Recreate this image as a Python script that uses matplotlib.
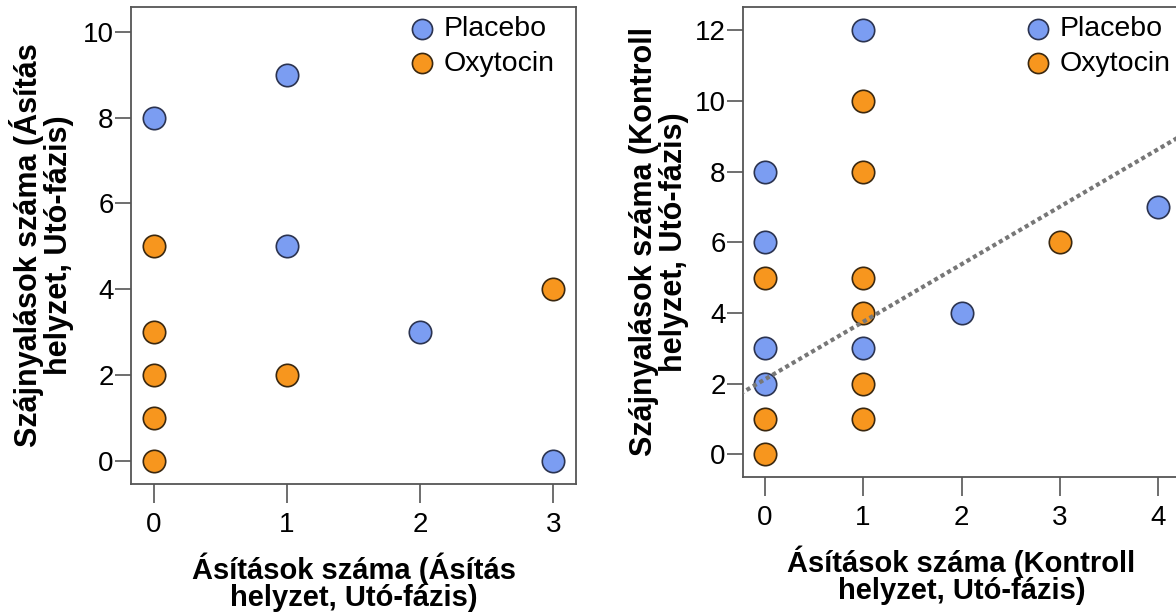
import matplotlib
matplotlib.use('Agg')
import matplotlib.pyplot as plt
import numpy as np

plt.rcParams['font.family'] = ['Liberation Sans', 'DejaVu Sans']

# Left panel: Ásítás helyzet
left_placebo_x = [0, 1, 1, 2, 3]
left_placebo_y = [8, 9, 5, 3, 0]
left_oxy_x = [0, 0, 0, 0, 0, 1, 3]
left_oxy_y = [5, 3, 2, 1, 0, 2, 4]

# Right panel: Kontroll helyzet
right_placebo_x = [1, 0, 0, 0, 0, 1, 2, 4]
right_placebo_y = [12, 8, 6, 3, 2, 3, 4, 7]
right_oxy_x = [1, 1, 0, 1, 1, 0, 1, 1, 0, 3]
right_oxy_y = [10, 8, 5, 5, 4, 1, 2, 1, 0, 6]

# fit line (intercept, slope)
fit_intercept = 2.12
fit_slope = 1.63

labels = ['Placebo', 'Oxytocin']
blue = '#7B9DF2'
orange = '#F7961E'
edge_blue = '#2b3350'
edge_orange = '#3a2810'
frame = '#555555'
msize = 260

W, H = 1176, 612


def style_axes(ax):
    for sp in ax.spines.values():
        sp.set_color(frame)
        sp.set_linewidth(1.3)
    ax.tick_params(direction='out', width=1.2, color=frame,
                   labelsize=20, labelcolor='black')
    ax.tick_params(axis='x', length=14, pad=6)
    ax.tick_params(axis='y', length=11.5, pad=1)


def add_legend(ax, x_px, y_px):
    ax.legend(loc='upper left', bbox_to_anchor=(x_px / W, 1 - y_px / H),
              bbox_transform=fig.transFigure, frameon=False, fontsize=20.5,
              handlelength=1.0, handletextpad=0.25, labelspacing=0.3,
              borderaxespad=0, borderpad=0, markerscale=0.9)


fig = plt.figure(figsize=(11.76, 6.12), dpi=100)

# left panel
ax1 = fig.add_axes([131 / W, 1 - 484 / H, (576 - 131) / W, (484 - 7) / H])
ax1.scatter(left_placebo_x, left_placebo_y, s=msize, c=blue, edgecolors=edge_blue,
            linewidths=1.2, label=labels[0], zorder=3)
ax1.scatter(left_oxy_x, left_oxy_y, s=msize, c=orange, edgecolors=edge_orange,
            linewidths=1.2, label=labels[1], zorder=3)
ax1.set_xlim(-0.17, 3.17)
ax1.set_ylim(-0.54, 10.58)
ax1.set_xticks([0, 1, 2, 3])
ax1.set_yticks([0, 2, 4, 6, 8, 10])
style_axes(ax1)
ax1.set_xlabel('Ásítások száma (Ásítás\nhelyzet, Utó-fázis)', fontsize=21,
               fontweight='bold', linespacing=0.97)
ax1.xaxis.set_label_coords(0.5, -0.1426)
ax1.set_ylabel('Szájnyalások száma (Ásítás\nhelyzet, Utó-fázis)', fontsize=22,
               fontweight='bold', linespacing=1.0)
ax1.yaxis.set_label_coords(-0.128, 0.5)
add_legend(ax1, 408, 16)

# right panel
ax2 = fig.add_axes([743 / W, 1 - 477 / H, (1180 - 743) / W, (477 - 7) / H])
ax2.scatter(right_placebo_x, right_placebo_y, s=msize, c=blue, edgecolors=edge_blue,
            linewidths=1.2, label=labels[0], zorder=3)
ax2.scatter(right_oxy_x, right_oxy_y, s=msize, c=orange, edgecolors=edge_orange,
            linewidths=1.2, label=labels[1], zorder=3)
xs = np.array([-0.25, 4.3])
ax2.plot(xs, fit_intercept + fit_slope * xs, linestyle=(0, (1, 0.8)), color='#777777',
         linewidth=3, zorder=4)
ax2.set_xlim(-0.22, 4.22)
ax2.set_ylim(-0.64, 12.66)
ax2.set_xticks([0, 1, 2, 3, 4])
ax2.set_yticks([0, 2, 4, 6, 8, 10, 12])
style_axes(ax2)
ax2.set_xlabel('Ásítások száma (Kontroll\nhelyzet, Utó-fázis)', fontsize=21,
               fontweight='bold', linespacing=0.97)
ax2.xaxis.set_label_coords(0.5, -0.145)
ax2.set_ylabel('Szájnyalások száma (Kontroll\nhelyzet, Utó-fázis)', fontsize=22,
               fontweight='bold', linespacing=1.0)
ax2.yaxis.set_label_coords(-0.124, 0.5)
add_legend(ax2, 1024, 16)

fig.savefig('out.png', dpi=100)
